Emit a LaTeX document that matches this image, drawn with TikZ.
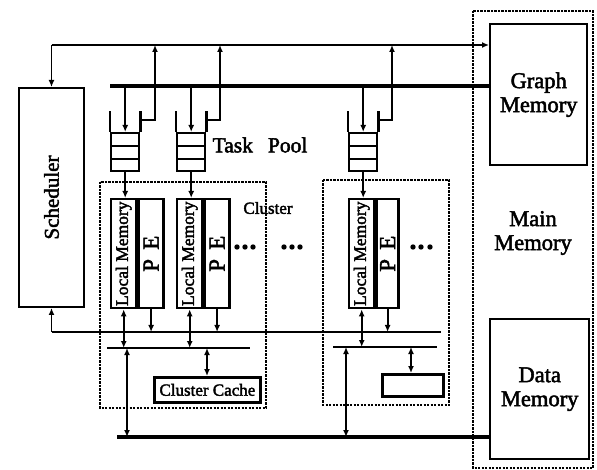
\documentclass[tikz,border=0pt]{standalone}
\usepackage{fontspec}
\setmainfont{Liberation Serif}[FakeBold=2.2]
\usetikzlibrary{arrows.meta}
\tikzset{
  thinl/.style={line width=1.9pt},
  busl/.style={line width=4.5pt},
  midbus/.style={line width=2.8pt},
  blk/.style={draw, line width=2.4pt, inner sep=0pt},
  dotbox/.style={draw, line width=2.4pt, dash pattern=on 2.2pt off 1.3pt},
  arr/.style={thinl, -{Latex[length=7pt,width=6pt]}},
  darr/.style={line width=2.4pt, {Latex[length=7pt,width=6pt]}-{Latex[length=7pt,width=6pt]}},
  lbl/.style={font=\fontsize{22.5}{24}\selectfont, align=center},
}
\begin{document}
\begin{tikzpicture}[x=1pt,y=-1pt]
\useasboundingbox (0,0) rectangle (597,470);
% main memory
\draw[dotbox] (473,11) rectangle (593,468);
\node[blk, minimum width=97pt, minimum height=141pt, anchor=north west, lbl] (gm) at (489,23) {Graph\\Memory};
\node[blk, minimum width=99pt, minimum height=140pt, anchor=north west, lbl] (dm) at (489,318) {Data\\Memory};
\node[lbl] (mm) at (533,233) {Main\\Memory};
% scheduler
\node[blk, line width=2pt, minimum width=65pt, minimum height=219pt, anchor=north west] (sch) at (18,87) {\rotatebox{90}{\fontsize{21}{23}\selectfont Scheduler}};
% top control line
\coordinate (tl) at (sch.north |- 0,45);
\draw[arr] (tl) -- (sch.north);
\draw[arr] (tl) -- (tl -| gm.west);
% graph bus
\coordinate (gb1) at (110,86);
\draw[busl] (gb1) -- (gb1 -| gm.west);
% queues
\foreach \n/\x/\r in {1/110/155, 2/176/220, 3/348/392}{
  \node[blk, minimum width=28pt, minimum height=38pt, anchor=north west] (q\n) at (\x,132) {};
  \draw[line width=2.4pt] (q\n.north west) -- ++(0,-21);
  \draw[line width=2.4pt] (q\n.north east) -- ++(0,-21);
  \draw[line width=2.2pt] ([yshift=13pt]q\n.south west) -- ([yshift=13pt]q\n.south east);
  \draw[line width=2.2pt] ([yshift=26pt]q\n.south west) -- ([yshift=26pt]q\n.south east);
  \draw[line width=2.4pt, -{Latex[length=7pt,width=6pt]}] (q\n.north |- gb1) -- (q\n.north);
  \draw[arr] ([yshift=12pt]q\n.north east) -| (\r,45);
}
% PE blocks
\foreach \n/\x/\a/\b in {1/110/25/25, 2/176/25/25, 3/348/25/22}{
  \node[blk, minimum width=\a pt, minimum height=109pt, anchor=north west] (lm\n) at (\x,198) {\rotatebox{90}{\fontsize{17.5}{18}\selectfont Local Memory}};
  \node[blk, minimum width=\b pt, minimum height=109pt, anchor=north west] (pe\n) at (lm\n.north east) {\rotatebox{90}{\fontsize{23}{24}\selectfont P\hspace{0.4em}E}};
  \draw[line width=2.4pt, -{Latex[length=7pt,width=6pt]}] (q\n.south) -- (q\n.south |- lm\n.north);
}
% clusters
\draw[dotbox] (100,182) rectangle (266,408);
\draw[dotbox] (323,180) rectangle (449,405);
% thin return line to scheduler
\coordinate (rl) at (sch.south |- 0,332);
\draw[thinl] (rl) -- (441,332);
\draw[arr] (rl) -- (sch.south);
\foreach \n in {1,2,3}{
  \draw[arr] (pe\n.south) -- (pe\n.south |- rl);
}
% cluster buses
\coordinate (cb1) at (107,348);
\coordinate (cb3) at (333,347);
\draw[midbus] (cb1) -- (250,348);
\draw[midbus] (cb3) -- (437,347);
\draw[darr] (lm1.south) -- (lm1.south |- cb1);
\draw[darr] (lm2.south) -- (lm2.south |- cb1);
\draw[darr] (lm3.south) -- (lm3.south |- cb3);
% caches
\node[blk, line width=2.8pt, minimum width=106pt, minimum height=25pt, anchor=north west, font=\fontsize{17}{18}\selectfont] (cc1) at (153,376) {Cluster Cache};
\node[blk, line width=2.8pt, minimum width=61pt, minimum height=22pt, anchor=north west] (cc3) at (381,373) {};
\draw[darr] (cc1.north -| 207,0) -- (207,348);
\draw[darr] (cc3.north -| 411,0) -- (411,347);
% data bus
\coordinate (db) at (117,437);
\draw[busl] (db) -- (db -| dm.west);
\draw[darr] (127,348) -- (127,437);
\draw[darr] (346,347) -- (346,437);
% labels and dots
\node[lbl, font=\fontsize{21.5}{23}\selectfont] (tp) at (260,145) {Task\hspace{0.7em}Pool};
\node[font=\fontsize{17}{19}\selectfont] (cl) at (268,208) {Cluster};
\foreach \x in {237,245,253,284,292,300,413,421,430}{
  \fill (\x,247) circle (2.7pt);
}
\end{tikzpicture}
\end{document}
